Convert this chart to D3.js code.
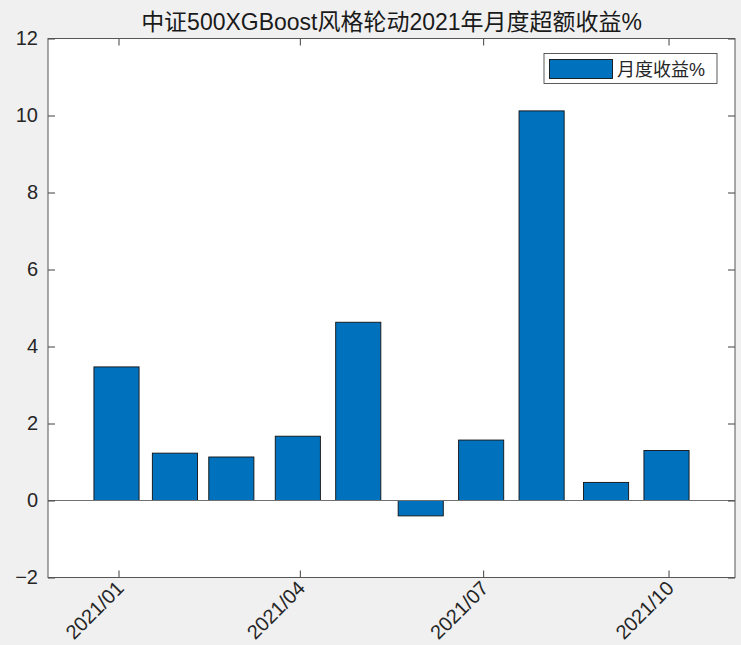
<!DOCTYPE html>
<html><head><meta charset="utf-8">
<script src="https://cdn.jsdelivr.net/npm/d3@7/dist/d3.min.js"></script>
<style>
html,body{margin:0;padding:0;background:#f0f0f0;}
svg{display:block;}
text{font-family:"Liberation Sans","Noto Sans CJK SC",sans-serif;}
</style></head>
<body>
<svg id="chart" width="741" height="645"></svg>
<script>
const title = "中证500XGBoost风格轮动2021年月度超额收益%";
const seriesName = "月度收益%";
const dates = ["2020-12-31","2021-01-29","2021-02-26","2021-03-31","2021-04-30","2021-05-31","2021-06-30","2021-07-30","2021-08-31","2021-09-30"];
const values = [3.47, 1.23, 1.13, 1.67, 4.63, -0.40, 1.57, 10.12, 0.47, 1.30];
const xTickDates = ["2021-01-01","2021-04-01","2021-07-01","2021-10-01"];
const xTickLabels = ["2021/01","2021/04","2021/07","2021/10"];
const yTicks = [-2, 0, 2, 4, 6, 8, 10, 12];
const xDomain = ["2020-11-27","2021-11-03"];
const yDomain = [-2, 12];

const parse = d3.utcParse("%Y-%m-%d");
const W = 741, H = 645;
const L = 48, R = 735, T = 38.5, B = 577.5;
const svg = d3.select("#chart");
svg.append("rect").attr("width", W).attr("height", H).attr("fill", "#f0f0f0");

const x = d3.scaleUtc().domain(xDomain.map(parse)).range([L, R]);
const y = d3.scaleLinear().domain(yDomain).range([B, T]);

svg.append("rect").attr("x", L).attr("y", T).attr("width", R - L).attr("height", B - T).attr("fill", "#ffffff");

const DAY = 86400000;
const halfW = 11.2 * DAY;

// bars
svg.append("g").selectAll("rect").data(dates.map((d, i) => ({d: parse(d), v: values[i]})))
  .join("rect")
  .attr("x", d => x(new Date(+d.d - halfW)))
  .attr("width", d => x(new Date(+d.d + halfW)) - x(new Date(+d.d - halfW)))
  .attr("y", d => y(Math.max(0, d.v)))
  .attr("height", d => Math.abs(y(d.v) - y(0)))
  .attr("fill", "#0072BD")
  .attr("stroke", "#111")
  .attr("stroke-width", 0.9);

// baseline
svg.append("line").attr("x1", L).attr("x2", R).attr("y1", y(0)).attr("y2", y(0))
  .attr("stroke", "#707070").attr("stroke-width", 1);

const axisColor = "#404040";
const tickLen = 7;
// y axis left with inward ticks
const yAxisL = d3.axisLeft(y).tickValues(yTicks).tickSize(-tickLen).tickPadding(10).tickFormat(d3.format("d"));
const gyl = svg.append("g").attr("transform", `translate(${L},0)`).call(yAxisL);
gyl.select(".domain").remove();
gyl.selectAll("line").attr("stroke", axisColor);
gyl.selectAll("text").attr("font-size", 20).attr("fill", "#262626");

const yAxisR = d3.axisRight(y).tickValues(yTicks).tickSize(-tickLen).tickFormat("");
const gyr = svg.append("g").attr("transform", `translate(${R},0)`).call(yAxisR);
gyr.select(".domain").remove();
gyr.selectAll("line").attr("stroke", axisColor);

// x axis bottom
const xt = xTickDates.map(parse);
const xAxisB = d3.axisBottom(x).tickValues(xt).tickSize(-tickLen).tickFormat((d, i) => xTickLabels[i]);
const gxb = svg.append("g").attr("transform", `translate(0,${B})`).call(xAxisB);
gxb.select(".domain").remove();
gxb.selectAll("line").attr("stroke", axisColor);
gxb.selectAll("text")
  .attr("font-size", 20).attr("fill", "#262626")
  .attr("text-anchor", "end")
  .attr("dy", "0")
  .attr("y", 0)
  .attr("transform", "translate(6,12) rotate(-45)");

const xAxisT = d3.axisTop(x).tickValues(xt).tickSize(-tickLen).tickFormat("");
const gxt = svg.append("g").attr("transform", `translate(0,${T})`).call(xAxisT);
gxt.select(".domain").remove();
gxt.selectAll("line").attr("stroke", axisColor);

// frame
svg.append("rect").attr("x", L).attr("y", T).attr("width", R - L).attr("height", B - T)
  .attr("fill", "none").attr("stroke", "#555").attr("stroke-width", 1);

// title
const tt = svg.append("text").attr("x", (L + R) / 2).attr("y", 30).attr("text-anchor", "middle")
  .attr("font-size", 20).attr("fill", "#1a1a1a").text(title);
const tw = tt.node().getComputedTextLength();
if (tw > 0) tt.attr("font-size", 20 * 501 / tw);

// legend
const lg = svg.append("g");
lg.append("rect").attr("x", 544).attr("y", 53.5).attr("width", 173).attr("height", 30)
  .attr("fill", "#fff").attr("stroke", "#333").attr("stroke-width", 0.8);
lg.append("rect").attr("x", 549.5).attr("y", 59.5).attr("width", 63).attr("height", 19)
  .attr("fill", "#0072BD").attr("stroke", "#111").attr("stroke-width", 0.9);
lg.append("text").attr("x", 617).attr("y", 75.5).attr("font-size", 18).attr("fill", "#262626").text(seriesName);
</script>
</body></html>
